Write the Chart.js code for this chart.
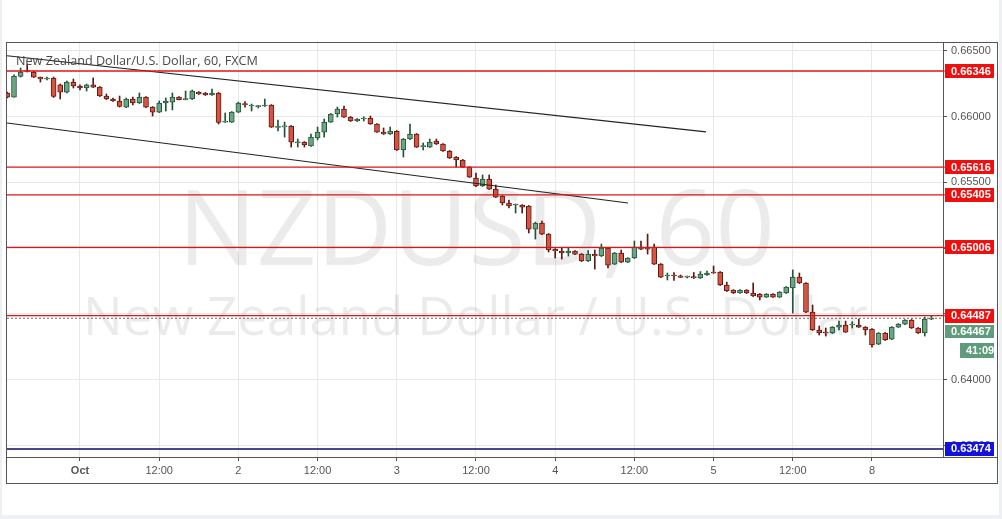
<!DOCTYPE html>
<html><head><meta charset="utf-8">
<script src="https://cdn.jsdelivr.net/npm/chart.js@4.4.1/dist/chart.umd.min.js"></script>
<style>
html,body{margin:0;padding:0;background:#eef0f3;width:1002px;height:519px;overflow:hidden}
#panel{position:absolute;left:2px;top:0;width:997px;height:515px;background:#fff}
#frame{position:absolute;left:6px;top:42px;width:990px;height:440px;border:1px solid #555;background:#fff}
canvas{display:block}
</style></head><body>
<div id="panel"></div>
<div id="frame"><canvas id="c" width="990" height="440"></canvas></div>
<script>
// ---- data (hourly bars, hour 0 = 1 Oct 00:00, weekend gap collapsed) ----
const firstHour = -11;
const opens = [
0.66179,0.66148,0.66304,0.66350,0.66338,0.66300,0.66285,0.66293,0.66240,0.66186,
0.66262,0.66232,0.66217,0.66240,0.66224,0.66156,0.66133,0.66118,0.66072,0.66133,
0.66103,0.66148,0.66072,0.66034,0.66103,0.66110,0.66148,0.66129,0.66133,0.66186,
0.66179,0.66164,0.66179,0.65958,0.65958,0.66034,0.66095,0.66080,0.66075,0.66080,
0.66088,0.65918,0.65922,0.65928,0.65801,0.65806,0.65776,0.65837,0.65882,0.65958,
0.66019,0.66057,0.65996,0.65966,0.65981,0.65989,0.65943,0.65882,0.65867,0.65890,
0.65746,0.65829,0.65867,0.65771,0.65768,0.65814,0.65791,0.65738,0.65692,0.65670,
0.65616,0.65533,0.65472,0.65525,0.65449,0.65396,0.65343,0.65328,0.65328,0.65320,
0.65145,0.65191,0.65107,0.64993,0.64978,0.64963,0.64978,0.64955,0.64902,0.64955,
0.64940,0.65000,0.64879,0.64963,0.64894,0.64925,0.65008,0.65008,0.65008,0.64879,
0.64788,0.64790,0.64790,0.64780,0.64783,0.64773,0.64796,0.64818,0.64818,0.64720,
0.64682,0.64659,0.64682,0.64659,0.64651,0.64628,0.64651,0.64628,0.64659,0.64697,
0.64780,0.64735,0.64514,0.64378,0.64362,0.64355,0.64400,0.64416,0.64416,0.64416,
0.64400,0.64385,0.64271,0.64355,0.64309,0.64400,0.64423,0.64454,0.64393,0.64355,
0.64461];
const highs = [
0.66186,0.66316,0.66369,0.66399,0.66346,0.66300,0.66300,0.66300,0.66247,0.66270,
0.66285,0.66240,0.66247,0.66293,0.66228,0.66171,0.66141,0.66156,0.66141,0.66148,
0.66179,0.66152,0.66076,0.66118,0.66141,0.66179,0.66152,0.66194,0.66202,0.66190,
0.66183,0.66209,0.66183,0.66027,0.66038,0.66110,0.66114,0.66095,0.66084,0.66133,
0.66091,0.65974,0.65958,0.65932,0.65829,0.65810,0.65867,0.65920,0.65981,0.66023,
0.66072,0.66080,0.66000,0.65985,0.65998,0.66004,0.65947,0.65913,0.65920,0.65894,
0.65833,0.65943,0.65871,0.65799,0.65829,0.65829,0.65795,0.65742,0.65696,0.65674,
0.65620,0.65571,0.65556,0.65556,0.65480,0.65400,0.65366,0.65335,0.65331,0.65324,
0.65198,0.65206,0.65111,0.64997,0.65000,0.65000,0.64982,0.64959,0.64982,0.64986,
0.65031,0.65004,0.64967,0.64986,0.64928,0.65054,0.65054,0.65107,0.65031,0.64883,
0.64811,0.64815,0.64796,0.64788,0.64815,0.64822,0.64826,0.64864,0.64822,0.64742,
0.64685,0.64685,0.64685,0.64735,0.64655,0.64655,0.64655,0.64670,0.64708,0.64834,
0.64811,0.64738,0.64568,0.64408,0.64393,0.64404,0.64446,0.64446,0.64441,0.64461,
0.64404,0.64389,0.64359,0.64359,0.64404,0.64427,0.64458,0.64458,0.64397,0.64476,
0.64484];
const lows = [
0.66141,0.66148,0.66300,0.66338,0.66297,0.66262,0.66278,0.66145,0.66133,0.66179,
0.66217,0.66202,0.66194,0.66220,0.66152,0.66129,0.66114,0.66072,0.66068,0.66088,
0.66099,0.66068,0.66004,0.66030,0.66042,0.66050,0.66126,0.66126,0.66129,0.66167,
0.66160,0.66160,0.65943,0.65955,0.65955,0.66030,0.66072,0.66042,0.66065,0.66076,
0.65917,0.65890,0.65844,0.65768,0.65768,0.65768,0.65772,0.65822,0.65844,0.65955,
0.65996,0.65993,0.65962,0.65962,0.65966,0.65940,0.65879,0.65863,0.65863,0.65742,
0.65692,0.65825,0.65765,0.65746,0.65765,0.65787,0.65734,0.65681,0.65616,0.65613,
0.65537,0.65468,0.65468,0.65445,0.65384,0.65328,0.65305,0.65267,0.65267,0.65115,
0.65069,0.65103,0.64970,0.64925,0.64917,0.64940,0.64951,0.64898,0.64898,0.64841,
0.64936,0.64849,0.64875,0.64890,0.64890,0.64921,0.64989,0.64955,0.64875,0.64776,
0.64758,0.64754,0.64776,0.64773,0.64769,0.64769,0.64792,0.64807,0.64716,0.64670,
0.64655,0.64655,0.64655,0.64632,0.64606,0.64625,0.64625,0.64625,0.64655,0.64506,
0.64731,0.64510,0.64374,0.64340,0.64332,0.64351,0.64378,0.64359,0.64393,0.64397,
0.64340,0.64248,0.64267,0.64298,0.64305,0.64397,0.64419,0.64389,0.64351,0.64332,
0.64457];
const closes = [
0.66148,0.66308,0.66338,0.66342,0.66300,0.66285,0.66293,0.66152,0.66186,0.66262,
0.66232,0.66217,0.66240,0.66224,0.66156,0.66133,0.66118,0.66076,0.66133,0.66103,
0.66148,0.66072,0.66034,0.66103,0.66118,0.66148,0.66129,0.66133,0.66194,0.66171,
0.66164,0.66179,0.65955,0.65960,0.66034,0.66103,0.66091,0.66082,0.66077,0.66088,
0.65920,0.65920,0.65924,0.65806,0.65803,0.65784,0.65844,0.65882,0.65958,0.66019,
0.66057,0.65996,0.65966,0.65981,0.65983,0.65943,0.65882,0.65867,0.65890,0.65746,
0.65829,0.65867,0.65768,0.65773,0.65806,0.65791,0.65738,0.65685,0.65670,0.65616,
0.65540,0.65472,0.65525,0.65449,0.65388,0.65343,0.65320,0.65330,0.65312,0.65145,
0.65191,0.65107,0.64986,0.64978,0.64963,0.64978,0.64955,0.64902,0.64955,0.64940,
0.65000,0.64871,0.64963,0.64894,0.64925,0.65008,0.64993,0.64993,0.64879,0.64780,
0.64790,0.64788,0.64778,0.64781,0.64773,0.64803,0.64811,0.64811,0.64720,0.64674,
0.64659,0.64682,0.64659,0.64636,0.64628,0.64651,0.64628,0.64666,0.64704,0.64780,
0.64735,0.64514,0.64378,0.64355,0.64355,0.64400,0.64416,0.64362,0.64418,0.64400,
0.64378,0.64264,0.64355,0.64302,0.64400,0.64423,0.64454,0.64393,0.64355,0.64461,
0.64467];

const tickHours  = [0, 12, 24, 36, 48, 60, 72, 84, 96, 108, 120];
const tickLabels = ["Oct","12:00","2","12:00","3","12:00","4","12:00","5","12:00","8"];
const priceTicks = [0.635, 0.640, 0.645, 0.650, 0.655, 0.660, 0.665];
const redLevels  = [0.66346, 0.65616, 0.65405, 0.65006, 0.64487];
const blueLevel  = 0.63474;
const lastPrice  = 0.64467;
const countdown  = "41:09";
const upperTrendX = [-11.06, 94.85];
const upperTrendY = [0.66462, 0.65883];
const lowerTrendX = [-11.06, 83.03];
const lowerTrendY = [0.65951, 0.65343];
const titleText  = "New Zealand Dollar/U.S. Dollar, 60, FXCM";
const watermark1 = "NZDUSD, 60";
const watermark2 = "New Zealand Dollar / U.S. Dollar";

// ---- style / view ----
const X_MIN = -11.06, X_MAX = 130.76;
const Y_MIN = 0.634129, Y_MAX = 0.665588;
const UP = '#6ba583', UP_B = '#225437', DN = '#d75442', DN_B = '#5b1a13';
const RED_LINE = '#dc1414', RED_BOX = '#f00f0f', BLUE_LINE = '#0c0c66', BLUE_BOX = '#1212dc', GREEN_BOX = '#5e9c7b';
const FONT = 'Liberation Sans';

const hours = opens.map((_, i) => firstHour + i);
const isUp = i => closes[i] >= opens[i];

const levelDs = (lvl, color, width, dash) => ({
  type: 'line', data: [{x: X_MIN, y: lvl}, {x: X_MAX, y: lvl}],
  borderColor: color, borderWidth: width, borderDash: dash || [], pointRadius: 0, order: 0
});

const datasets = [
  { type: 'bar', data: hours.map((h, i) => ({x: h, y: [lows[i], highs[i]]})),
    barThickness: 1, borderWidth: 0, grouped: false, order: 3,
    backgroundColor: hours.map((h, i) => isUp(i) ? UP_B : DN_B) },
  { type: 'bar', data: hours.map((h, i) => ({x: h, y: [opens[i], closes[i]]})),
    barThickness: 5, minBarLength: 1, borderWidth: 1, borderSkipped: false, grouped: false, order: 2,
    backgroundColor: hours.map((h, i) => isUp(i) ? UP : DN),
    borderColor: hours.map((h, i) => isUp(i) ? UP_B : DN_B) },
  ...redLevels.map(l => levelDs(l, RED_LINE, 1.3)),
  levelDs(blueLevel, BLUE_LINE, 1.5),
  levelDs(lastPrice, '#666', 1, [2, 2]),
  { type: 'line', data: upperTrendX.map((x, i) => ({x, y: upperTrendY[i]})), borderColor: '#222', borderWidth: 1.2, pointRadius: 0, order: 0 },
  { type: 'line', data: lowerTrendX.map((x, i) => ({x, y: lowerTrendY[i]})), borderColor: '#222', borderWidth: 1.2, pointRadius: 0, order: 0 }
];

function fitSize(ctx, text, weight, family, target) {
  ctx.font = `${weight} 100px "${family}"`;
  return 100 * target / ctx.measureText(text).width;
}

const decor = {
  id: 'decor',
  beforeDatasetsDraw(chart) {
    const {ctx} = chart;
    ctx.save();
    ctx.fillStyle = 'rgba(110,110,110,0.14)';
    ctx.textAlign = 'center'; ctx.textBaseline = 'alphabetic';
    let s = fitSize(ctx, watermark1, 'normal', 'Open Sans', 597);
    ctx.font = `normal ${s}px "Open Sans"`;
    ctx.fillText(watermark1, 469.5, 222);
    s = fitSize(ctx, watermark2, 'normal', 'Open Sans', 785);
    ctx.font = `normal ${s}px "Open Sans"`;
    ctx.fillText(watermark2, 468.5, 292);
    ctx.restore();
  },
  afterDraw(chart) {
    const {ctx, chartArea: a, scales: {y}} = chart;
    ctx.save();
    ctx.strokeStyle = '#555'; ctx.lineWidth = 1;
    ctx.beginPath(); ctx.moveTo(a.right, a.bottom + 0.5); ctx.lineTo(chart.width, a.bottom + 0.5); ctx.stroke();
    const ts = fitSize(ctx, titleText, 'normal', 'Open Sans', 242);
    ctx.font = `normal ${ts}px "Open Sans"`;
    ctx.fillStyle = '#4a4a4a'; ctx.textAlign = 'left'; ctx.textBaseline = 'alphabetic';
    ctx.fillText(titleText, 9, 22);
    const box = (cy, text, bg, x0, h) => {
      ctx.fillStyle = bg;
      ctx.fillRect(a.right + x0, Math.round(cy - h / 2), 51 - x0, h);
      ctx.fillStyle = '#fff';
      ctx.font = `bold 11px "${FONT}"`;
      ctx.textAlign = 'left'; ctx.textBaseline = 'middle';
      ctx.fillText(text, a.right + x0 + 6, cy + 0.5);
    };
    redLevels.forEach(l => {
      const py = y.getPixelForValue(l);
      ctx.strokeStyle = RED_LINE; ctx.beginPath(); ctx.moveTo(a.right, py); ctx.lineTo(a.right + 2, py); ctx.stroke();
      box(py, l.toFixed(5), RED_BOX, 2, 14);
    });
    const by = y.getPixelForValue(blueLevel);
    box(by, blueLevel.toFixed(5), BLUE_BOX, 2, 14);
    const gy = y.getPixelForValue(redLevels[4]) + 15.5;
    box(gy, lastPrice.toFixed(5), GREEN_BOX, 2, 13);
    box(gy + 19, countdown, GREEN_BOX, 17, 15);
    ctx.restore();
  }
};

new Chart(document.getElementById('c'), {
  type: 'bar',
  data: { datasets },
  options: {
    responsive: false, animation: false, devicePixelRatio: 1,
    layout: { padding: 0 },
    plugins: { legend: { display: false }, tooltip: { enabled: false } },
    scales: {
      x: {
        type: 'linear', min: X_MIN, max: X_MAX, offset: false,
        afterBuildTicks: s => { s.ticks = tickHours.map(v => ({ value: v })); },
        ticks: { autoSkip: false, maxRotation: 0, padding: 3, color: '#555',
          font: c => ({ family: FONT, size: 11, weight: c.index === 0 ? 'bold' : 'normal' }),
          callback: (v, i) => tickLabels[i] },
        grid: { offset: false, color: '#e8e8e8', tickColor: '#555', tickLength: 4 },
        border: { color: '#555' },
        afterFit: s => { s.height = 26; s.paddingLeft = 0; s.paddingRight = 0; s.paddingTop = 0; s.paddingBottom = 0; }
      },
      y: {
        type: 'linear', position: 'right', min: Y_MIN, max: Y_MAX,
        afterBuildTicks: s => { s.ticks = priceTicks.map(v => ({ value: v })); },
        ticks: { padding: 4, color: '#555', font: { family: FONT, size: 11 }, callback: v => v.toFixed(5) },
        grid: { color: '#e8e8e8', tickColor: '#555', tickLength: 4 },
        border: { color: '#555' },
        afterFit: s => { s.width = 54; s.paddingTop = 0; s.paddingBottom = 0; s.paddingLeft = 0; s.paddingRight = 0; }
      }
    }
  },
  plugins: [decor]
});
</script>
</body></html>
